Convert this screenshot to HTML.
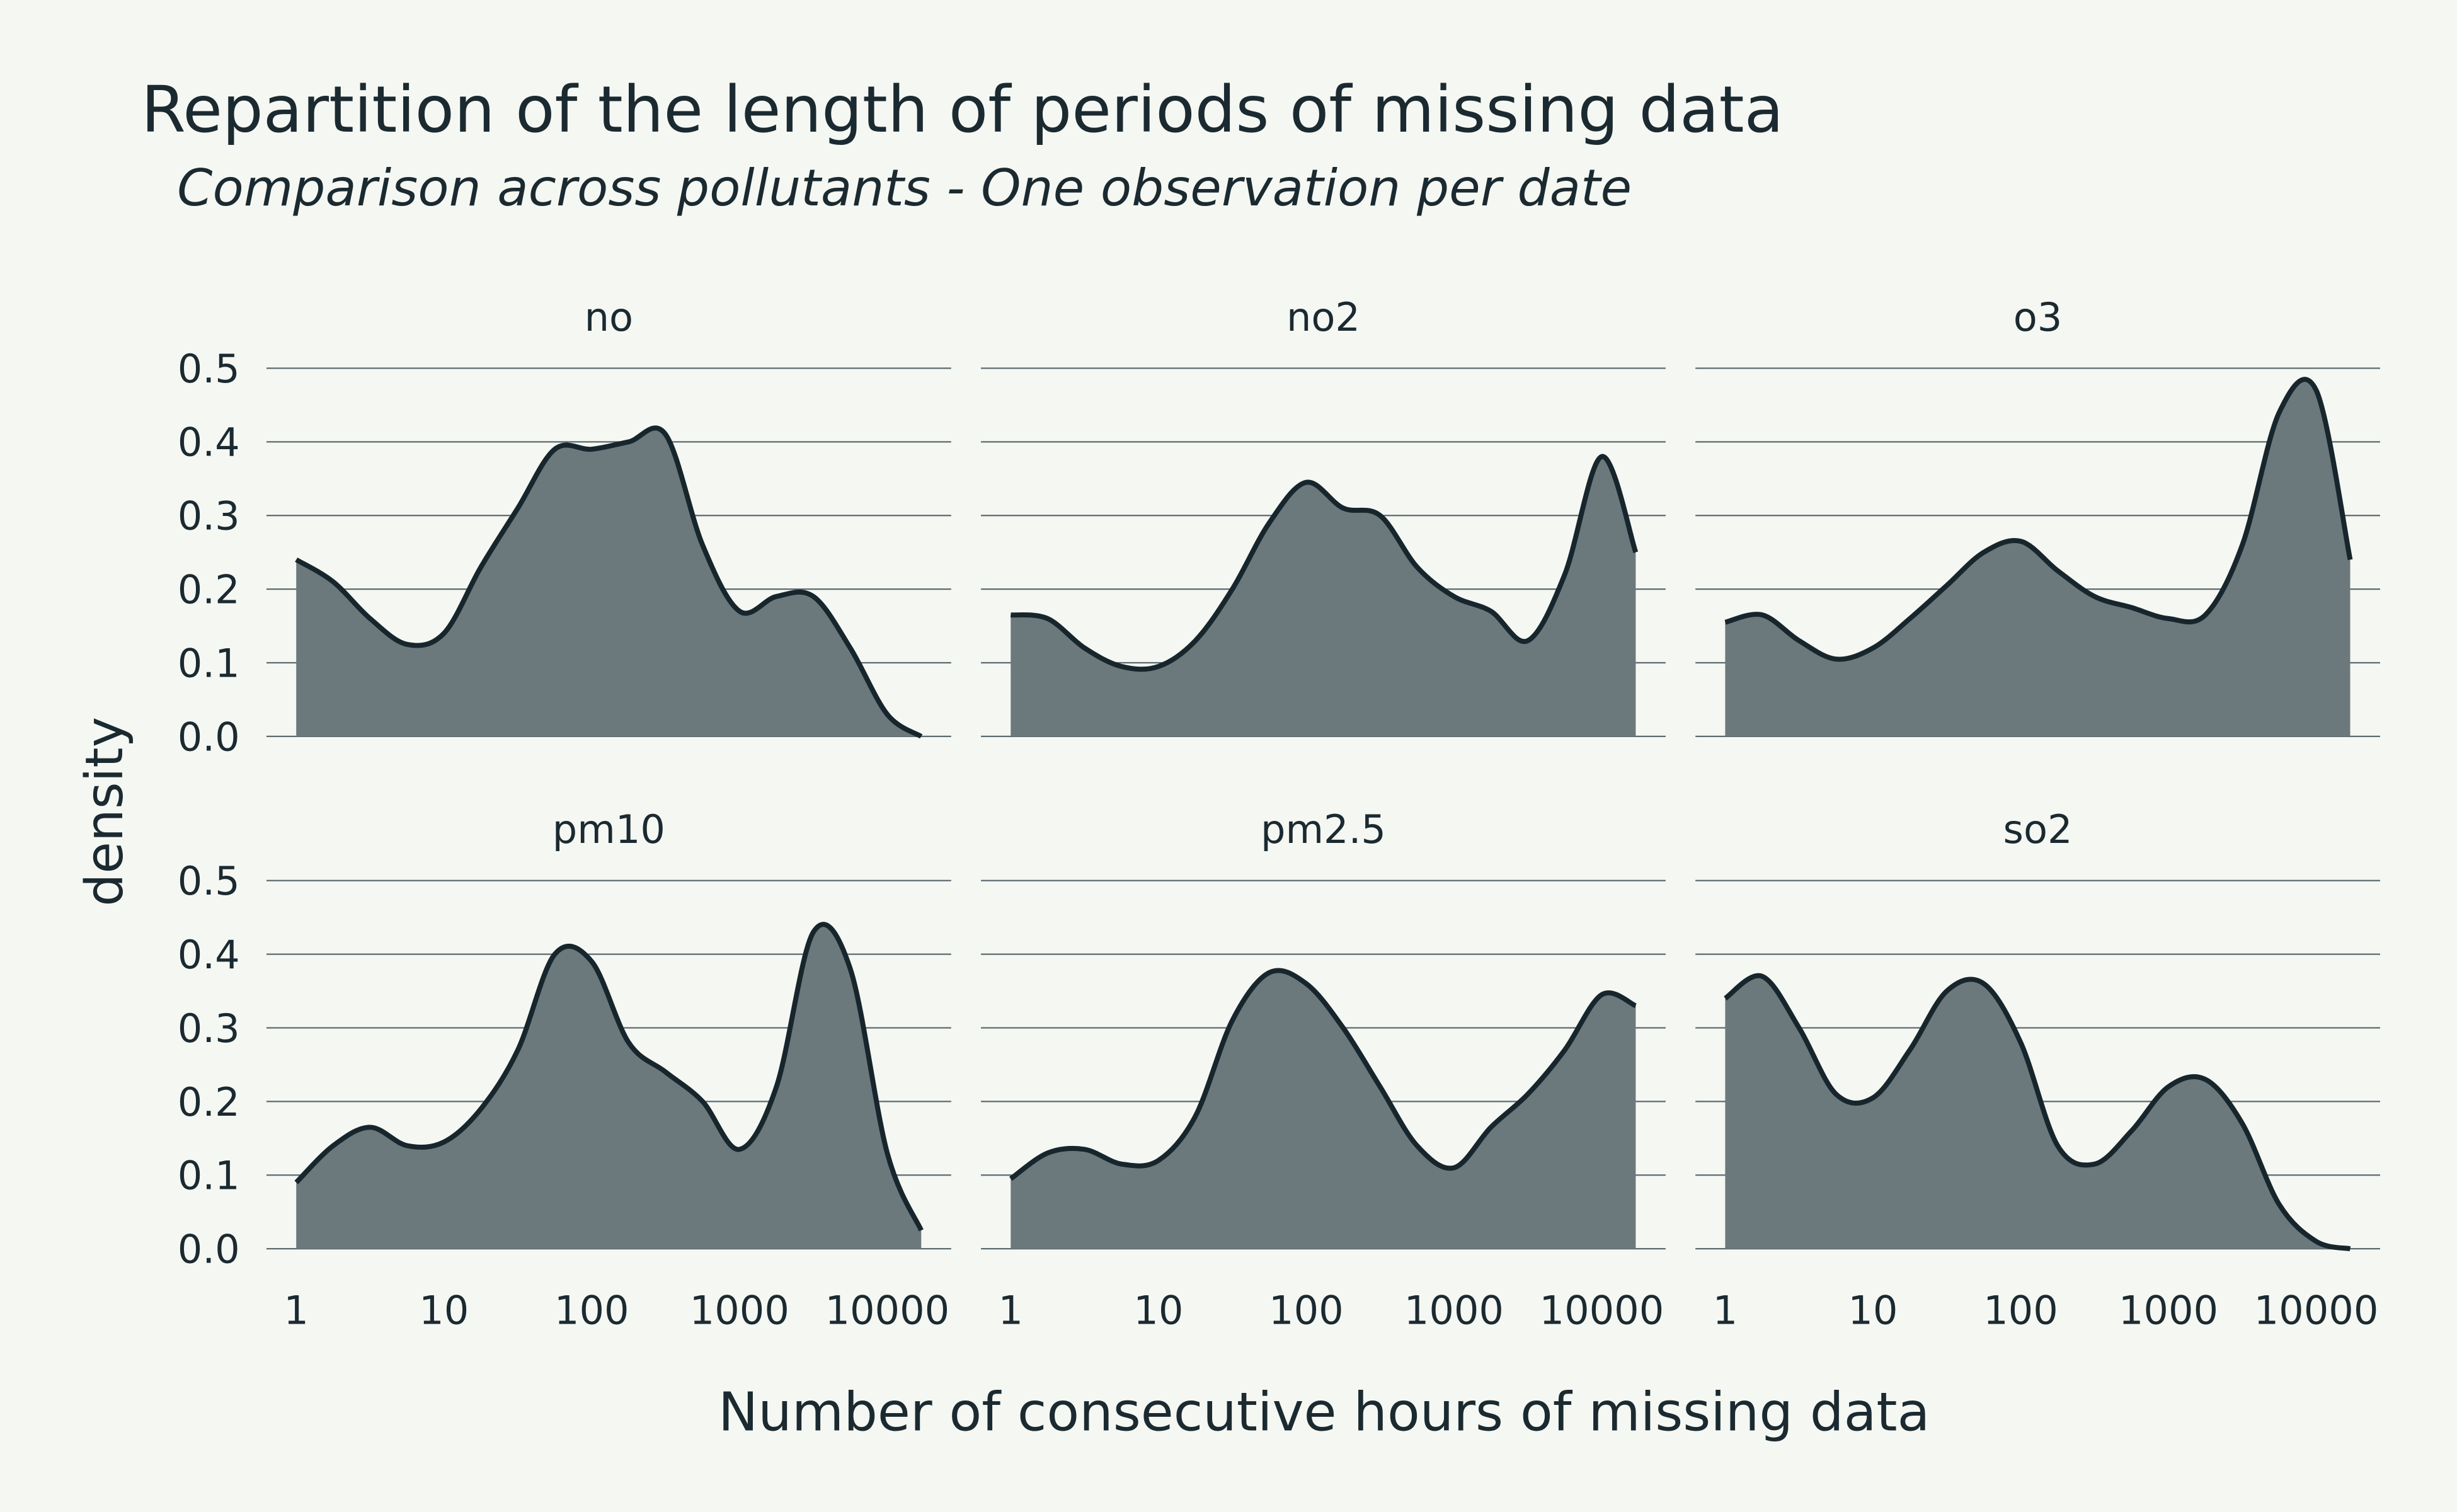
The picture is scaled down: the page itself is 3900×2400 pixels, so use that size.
<!DOCTYPE html>
<html><head><meta charset="utf-8"><style>
html,body{margin:0;padding:0;background:#f5f7f3;}
svg{display:block;font-family:"DejaVu Sans","Liberation Sans",sans-serif;}
</style></head><body>
<svg id="chart" width="3900" height="2400" viewBox="0 0 1568 965" xmlns="http://www.w3.org/2000/svg">
<rect width="1568" height="965" fill="#f5f7f3"/>
<text x="90" y="84" font-size="41" fill="#1b2a30">Repartition of the length of periods of missing data</text>
<text x="113" y="131" font-size="32.4" font-style="italic" fill="#1b2a30">Comparison across pollutants - One observation per date</text>
<text x="845" y="913" font-size="34" text-anchor="middle" fill="#1b2a30">Number of consecutive hours of missing data</text>
<text transform="translate(78,518) rotate(-90)" font-size="33" text-anchor="middle" fill="#1b2a30">density</text>
<g id="panels"></g>
</svg>
<script>
const logX = [0,0.25,0.5,0.75,1,1.25,1.5,1.75,2,2.25,2.5,2.75,3,3.25,3.5,3.75,4,4.23];
const pollutants = ["no","no2","o3","pm10","pm2.5","so2"];
const densNo   = [0.24,0.21,0.16,0.125,0.14,0.23,0.31,0.39,0.39,0.40,0.41,0.26,0.17,0.19,0.19,0.12,0.03,0.0];
const densNo2  = [0.165,0.16,0.12,0.095,0.095,0.13,0.2,0.29,0.345,0.31,0.30,0.23,0.19,0.17,0.13,0.22,0.38,0.25];
const densO3   = [0.155,0.165,0.13,0.105,0.12,0.16,0.205,0.25,0.265,0.225,0.19,0.175,0.16,0.165,0.26,0.44,0.47,0.24];
const densPm10 = [0.09,0.14,0.165,0.14,0.145,0.19,0.27,0.40,0.39,0.28,0.24,0.20,0.135,0.22,0.43,0.38,0.13,0.025];
const densPm25 = [0.095,0.13,0.135,0.115,0.12,0.18,0.31,0.375,0.36,0.30,0.22,0.14,0.11,0.165,0.21,0.27,0.345,0.33];
const densSo2  = [0.34,0.37,0.30,0.21,0.205,0.27,0.35,0.36,0.28,0.14,0.115,0.16,0.22,0.23,0.17,0.06,0.01,0.0];
const series = [densNo,densNo2,densO3,densPm10,densPm25,densSo2];
const yTicks = ["0.0","0.1","0.2","0.3","0.4","0.5"];
const xTicks = ["1","10","100","1000","10000"];

const NS="http://www.w3.org/2000/svg";
const g=document.getElementById('panels');
function mk(t,a,p){const e=document.createElementNS(NS,t);for(const k in a)e.setAttribute(k,a[k]);(p||g).appendChild(e);return e;}
const colX0=[170,626,1082], rowY0=[470,797];
for(let i=0;i<6;i++){
  const c=i%3,r=Math.floor(i/3);
  const left=colX0[c], right=left+437, base=rowY0[r];
  const xs=L=>left+19+94.3*L, ys=d=>base-470*d;
  const pg=mk('g',{});
  
  
  for(let t=0;t<yTicks.length;t++){
    const v=parseFloat(yTicks[t]);
    const ln=mk('line',{x1:left,x2:right,y1:ys(v),y2:ys(v),stroke:'#5c6b70','stroke-width':0.9},pg);
    
    
    if(c===0){
      const tx=mk('text',{x:153,y:ys(v)+9,'font-size':25,'text-anchor':'end',fill:'#1b2a30'},pg);
      tx.textContent=yTicks[t];
      
      
    }
  }
  if(r===1){
    for(let t=0;t<xTicks.length;t++){
      const tx=mk('text',{x:xs(Math.log10(+xTicks[t])),y:845,'font-size':25,'text-anchor':'middle',fill:'#1b2a30'},pg);
      tx.textContent=xTicks[t];
      
      
    }
  }
  const st=mk('text',{x:(left+right)/2,y:base-259,'font-size':25,'text-anchor':'middle',fill:'#1b2a30'},pg);
  st.textContent=pollutants[i];
  
  
  const P=logX.map((L,k)=>[xs(L),ys(series[i][k])]);
  let d='M'+P[0][0]+','+P[0][1];
  for(let k=0;k<P.length-1;k++){
    const p0=P[Math.max(0,k-1)],p1=P[k],p2=P[k+1],p3=P[Math.min(P.length-1,k+2)];
    const c1=[p1[0]+(p2[0]-p0[0])/6,p1[1]+(p2[1]-p0[1])/6];
    const c2=[p2[0]-(p3[0]-p1[0])/6,p2[1]-(p3[1]-p1[1])/6];
    d+=' C'+c1+' '+c2+' '+p2;
  }
  const area=mk('path',{d:d+' L'+P[P.length-1][0]+','+base+' L'+P[0][0]+','+base+' Z',fill:'#6b787c'},pg);
  
  
  const line=mk('path',{d:d,fill:'none',stroke:'#17262c','stroke-width':3.2},pg);
  
  
}
</script>
</body></html>
